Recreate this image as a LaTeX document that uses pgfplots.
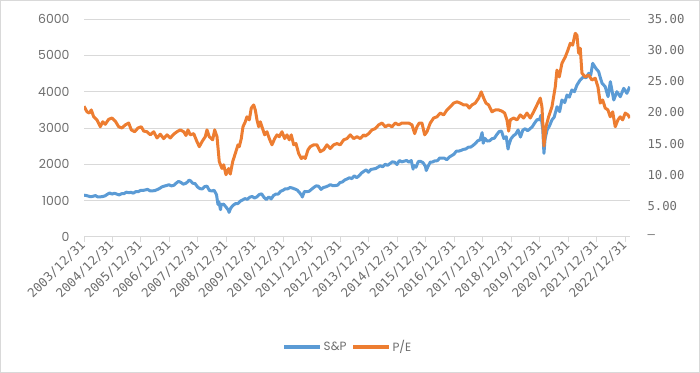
\documentclass[border=0pt]{standalone}
\usepackage{pgfplots}
\pgfplotsset{compat=1.18}
\usepackage{fontspec}
\setmainfont{Poppins}
\newfontfamily\monofont{DejaVu Sans Mono}
\definecolor{spblue}{HTML}{5B9BD5}
\definecolor{peorange}{HTML}{ED7D31}
\definecolor{gridgray}{HTML}{D9D9D9}
\definecolor{txtgray}{HTML}{6E6E6E}
\begin{document}
\begin{tikzpicture}
\path[use as bounding box] (0,0) rectangle (700bp,373bp);
\draw[gridgray, line width=1bp] (0.5bp,0.5bp) rectangle (699.5bp,372.5bp);
\begin{axis}[
  at={(84bp,136bp)}, anchor=south west,
  scale only axis, width=546bp, height=218bp,
  xmin=2004, xmax=2023.16, ymin=0, ymax=6000,
  axis x line*=bottom, axis y line*=left,
  y axis line style={draw=none},
  x axis line style={draw=gridgray, line width=1bp},
  ytick={0,1000,2000,3000,4000,5000,6000},
  yticklabels={0,1000,2000,3000,4000,5000,6000},
  ymajorgrids, grid style={draw=gridgray, line width=1bp},
  major y tick style={draw=none},
  ytick style={draw=none},
  xtick={2004,2005,2006,2007,2008,2009,2010,2011,2012,2013,2014,2015,2016,2017,2018,2019,2020,2021,2022,2023},
  xticklabels={2003/12/31,2004/12/31,2005/12/31,2006/12/31,2007/12/31,2008/12/31,2009/12/31,2010/12/31,2011/12/31,2012/12/31,2013/12/31,2014/12/31,2015/12/31,2016/12/31,2017/12/31,2018/12/31,2019/12/31,2020/12/31,2021/12/31,2022/12/31},
  xtick style={draw=gridgray, line width=1bp},
  tick align=outside, major tick length=5bp,
  xticklabel style={font=\monofont\fontsize{12.5}{14}\selectfont, text=txtgray, rotate=45, anchor=east, inner sep=1bp},
  yticklabel style={font=\fontsize{12.5}{14}\selectfont, text=txtgray, xshift=-6bp},
]
\addplot[spblue, line width=3bp, line join=round, no markers] coordinates {
(2004.000,1150) (2004.067,1145) (2004.150,1126) (2004.233,1107) (2004.317,1121) (2004.400,1141)
(2004.483,1102) (2004.567,1104) (2004.650,1114) (2004.733,1130) (2004.817,1174) (2004.900,1212)
(2004.983,1181) (2005.067,1204) (2005.150,1181) (2005.233,1157) (2005.317,1192) (2005.400,1191)
(2005.483,1234) (2005.567,1220) (2005.650,1229) (2005.733,1207) (2005.817,1249) (2005.900,1248)
(2005.983,1280) (2006.067,1281) (2006.150,1295) (2006.233,1311) (2006.317,1270) (2006.400,1270)
(2006.483,1277) (2006.567,1304) (2006.650,1336) (2006.733,1378) (2006.817,1401) (2006.900,1418)
(2006.983,1438) (2007.067,1407) (2007.150,1421) (2007.233,1482) (2007.317,1531) (2007.400,1503)
(2007.483,1455) (2007.567,1474) (2007.650,1527) (2007.680,1565) (2007.733,1549) (2007.817,1481)
(2007.900,1468) (2007.983,1378) (2008.067,1331) (2008.150,1323) (2008.233,1386) (2008.317,1400)
(2008.400,1280) (2008.483,1267) (2008.567,1283) (2008.650,1166) (2008.700,900) (2008.733,969)
(2008.790,752) (2008.817,896) (2008.900,903) (2008.983,826) (2009.067,735) (2009.090,677)
(2009.150,798) (2009.233,873) (2009.317,919) (2009.400,919) (2009.483,987) (2009.567,1021)
(2009.650,1057) (2009.733,1036) (2009.817,1096) (2009.900,1115) (2009.983,1074) (2010.067,1104)
(2010.150,1169) (2010.233,1187) (2010.317,1089) (2010.400,1031) (2010.483,1102) (2010.567,1049)
(2010.650,1141) (2010.733,1183) (2010.817,1181) (2010.900,1258) (2010.983,1286) (2011.067,1327)
(2011.150,1326) (2011.233,1364) (2011.317,1345) (2011.400,1321) (2011.483,1292) (2011.567,1219)
(2011.650,1131) (2011.660,1099) (2011.733,1253) (2011.817,1247) (2011.900,1258) (2011.983,1312)
(2012.067,1366) (2012.150,1408) (2012.233,1398) (2012.317,1310) (2012.400,1362) (2012.483,1379)
(2012.567,1407) (2012.650,1441) (2012.733,1412) (2012.817,1416) (2012.900,1426) (2012.983,1498)
(2013.067,1515) (2013.150,1569) (2013.233,1598) (2013.317,1631) (2013.400,1606) (2013.483,1686)
(2013.567,1633) (2013.650,1682) (2013.733,1757) (2013.817,1806) (2013.900,1848) (2013.983,1783)
(2014.067,1859) (2014.150,1872) (2014.233,1884) (2014.317,1924) (2014.400,1960) (2014.483,1931)
(2014.567,2003) (2014.650,1972) (2014.733,2018) (2014.817,2068) (2014.900,2059) (2014.983,1995)
(2015.067,2105) (2015.150,2068) (2015.233,2086) (2015.317,2107) (2015.400,2063) (2015.483,2104)
(2015.550,1867) (2015.567,1972) (2015.650,1920) (2015.733,2079) (2015.817,2080) (2015.900,2044)
(2015.983,1940) (2016.010,1829) (2016.067,1932) (2016.150,2060) (2016.233,2065) (2016.317,2097)
(2016.400,2099) (2016.483,2174) (2016.567,2171) (2016.650,2168) (2016.733,2126) (2016.817,2199)
(2016.900,2239) (2016.983,2279) (2017.067,2364) (2017.150,2363) (2017.233,2384) (2017.317,2412)
(2017.400,2423) (2017.483,2470) (2017.567,2472) (2017.650,2519) (2017.733,2575) (2017.817,2648)
(2017.900,2674) (2017.970,2873) (2018.010,2581) (2018.067,2714) (2018.150,2641) (2018.233,2648)
(2018.317,2705) (2018.400,2718) (2018.483,2816) (2018.567,2902) (2018.650,2914) (2018.733,2712)
(2018.817,2760) (2018.880,2420) (2018.900,2507) (2018.983,2704) (2019.067,2784) (2019.150,2834)
(2019.233,2946) (2019.317,2752) (2019.400,2942) (2019.483,2980) (2019.567,2926) (2019.650,2977)
(2019.733,3038) (2019.817,3141) (2019.900,3231) (2019.983,3226) (2020.035,3350) (2020.100,2950)
(2020.140,2303) (2020.180,2700) (2020.250,2945) (2020.330,3050) (2020.420,3220) (2020.500,3300)
(2020.600,3586) (2020.690,3450) (2020.770,3770) (2020.870,3700) (2020.950,3908) (2021.030,3850)
(2021.120,4045) (2021.210,4000) (2021.300,4183) (2021.410,4321) (2021.530,4412) (2021.620,4380)
(2021.710,4505) (2021.780,4450) (2021.850,4780) (2021.960,4643) (2022.060,4550) (2022.120,4380)
(2022.180,4230) (2022.290,4138) (2022.390,3861) (2022.470,4275) (2022.590,3770) (2022.700,3999)
(2022.820,3861) (2022.940,4092) (2023.050,3955) (2023.150,4138)
};
\end{axis}
\begin{axis}[
  at={(84bp,136bp)}, anchor=south west,
  scale only axis, width=546bp, height=218bp,
  xmin=2004, xmax=2023.16, ymin=0, ymax=35,
  axis y line*=right, axis x line=none,
  y axis line style={draw=none},
  ytick={0,5,10,15,20,25,30,35},
  yticklabels={—,5.00,10.00,15.00,20.00,25.00,30.00,35.00},
  ytick style={draw=none}, major tick length=0pt,
  yticklabel style={font=\monofont\fontsize{12.3}{14}\selectfont, text=txtgray, anchor=west, xshift=14bp},
  legend style={at={(0.4835,-0.5046)}, anchor=center, draw=none, fill=none,
    legend columns=2, font=\fontsize{12}{14}\selectfont, text=txtgray,
    /tikz/every even column/.append style={column sep=3bp}},
  legend image code/.code={\draw[#1] (0bp,0bp) -- (36bp,0bp);},
]
\addlegendimage{spblue, line width=3bp}
\addlegendentry{S\&P}
\addplot[peorange, line width=3bp, line join=round, no markers] coordinates {
(2004.000,21.0) (2004.105,20.1) (2004.186,19.9) (2004.256,20.4) (2004.340,19.3) (2004.456,18.8)
(2004.572,17.7) (2004.656,18.5) (2004.747,18.1) (2004.867,18.9) (2004.982,19.1) (2005.098,18.6)
(2005.218,17.7) (2005.333,17.5) (2005.449,18.0) (2005.568,18.3) (2005.660,17.2) (2005.779,16.9)
(2005.895,17.5) (2006.011,17.7) (2006.095,17.0) (2006.211,16.9) (2006.326,16.4) (2006.446,16.9)
(2006.561,15.9) (2006.677,16.5) (2006.796,15.8) (2006.912,16.4) (2007.028,15.9) (2007.147,16.5)
(2007.263,16.9) (2007.379,17.2) (2007.498,16.9) (2007.579,16.3) (2007.649,17.2) (2007.730,16.4)
(2007.849,16.6) (2007.965,15.3) (2008.046,14.5) (2008.140,15.3) (2008.256,16.1) (2008.316,17.2)
(2008.396,16.1) (2008.516,15.6) (2008.586,17.2) (2008.667,16.1) (2008.747,12.1) (2008.842,11.0)
(2008.902,11.6) (2008.982,10.0) (2009.077,11.0) (2009.133,10.1) (2009.218,12.1) (2009.309,13.4)
(2009.404,14.8) (2009.449,14.5) (2009.519,15.8) (2009.579,17.7) (2009.660,18.5) (2009.719,19.3)
(2009.800,18.8) (2009.870,20.7) (2009.954,21.2) (2010.011,20.4) (2010.070,18.8) (2010.130,17.7)
(2010.186,18.5) (2010.246,17.7) (2010.340,16.4) (2010.421,16.9) (2010.502,15.8) (2010.596,14.8)
(2010.691,15.8) (2010.772,16.4) (2010.853,16.1) (2010.947,16.9) (2011.042,15.8) (2011.123,16.4)
(2011.204,15.6) (2011.274,16.4) (2011.358,14.8) (2011.439,15.0) (2011.533,13.4) (2011.625,12.6)
(2011.709,12.9) (2011.765,12.6) (2011.860,14.0) (2011.940,14.5) (2012.060,14.8) (2012.175,14.8)
(2012.291,13.7) (2012.411,14.0) (2012.526,14.8) (2012.642,14.2) (2012.761,14.8) (2012.877,15.0)
(2012.993,14.8) (2013.112,15.6) (2013.228,15.8) (2013.344,16.4) (2013.463,15.8) (2013.579,16.1)
(2013.695,15.8) (2013.814,16.4) (2013.870,16.2) (2013.989,16.6) (2014.105,17.2) (2014.221,17.4)
(2014.340,18.0) (2014.456,18.3) (2014.572,17.7) (2014.691,18.0) (2014.807,17.7) (2014.923,18.3)
(2015.042,18.0) (2015.158,18.3) (2015.274,18.3) (2015.393,18.3) (2015.509,18.0) (2015.604,16.6)
(2015.684,17.7) (2015.765,18.3) (2015.860,18.3) (2015.954,16.4) (2016.035,16.9) (2016.151,18.3)
(2016.270,19.1) (2016.386,19.3) (2016.502,19.9) (2016.621,19.6) (2016.737,20.4) (2016.853,20.9)
(2016.972,21.5) (2017.088,21.7) (2017.204,21.5) (2017.323,21.2) (2017.439,21.2) (2017.519,20.7)
(2017.614,21.2) (2017.730,21.5) (2017.849,22.3) (2017.940,23.3) (2018.025,22.3) (2018.105,21.5)
(2018.200,21.2) (2018.316,20.1) (2018.432,20.4) (2018.551,20.4) (2018.667,20.2) (2018.761,19.9)
(2018.842,18.8) (2018.902,17.0) (2018.958,18.8) (2019.077,19.1) (2019.193,18.8) (2019.309,19.6)
(2019.428,19.1) (2019.544,19.9) (2019.660,19.1) (2019.779,20.1) (2019.895,21.2) (2020.011,22.3)
(2020.070,20.9) (2020.140,14.6) (2020.211,17.7) (2020.305,19.3) (2020.421,20.9) (2020.537,24.1)
(2020.596,26.8) (2020.677,25.7) (2020.772,27.9) (2020.888,28.9) (2020.982,30.0) (2021.063,31.1)
(2021.147,30.8) (2021.239,32.7) (2021.298,32.4) (2021.358,29.5) (2021.414,30.3) (2021.474,26.3)
(2021.589,25.7) (2021.709,26.0) (2021.825,25.2) (2021.940,25.5) (2022.035,24.1) (2022.116,21.5)
(2022.200,22.0) (2022.291,20.7) (2022.386,20.4) (2022.467,19.3) (2022.551,20.1) (2022.642,17.7)
(2022.737,18.8) (2022.818,19.3) (2022.902,18.8) (2022.993,19.9) (2023.088,19.6) (2023.158,19.1)
};
\addlegendentry{P/E}
\end{axis}
\end{tikzpicture}
\end{document}
